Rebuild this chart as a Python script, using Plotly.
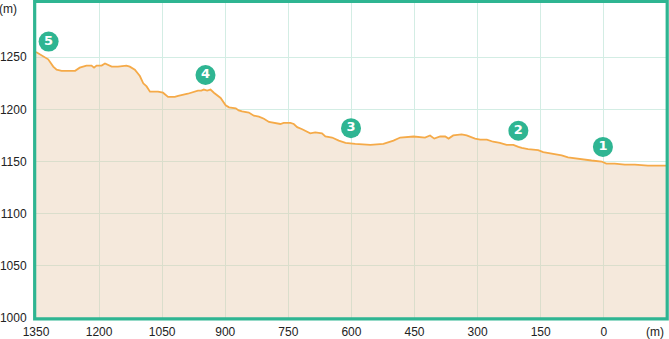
import plotly.graph_objects as go

# Elevation profile (distance in m, elevation in m)
distance = [1350, 1336, 1321, 1309, 1301, 1289, 1257, 1246, 1230, 1218, 1212, 1206, 1194, 1186, 1180,
            1170, 1155, 1135, 1127, 1115, 1103, 1099, 1095, 1087, 1079, 1060, 1048, 1036, 1020, 1012,
            989, 965, 957, 951, 943, 935, 927, 911, 899, 891, 875, 868, 860, 844, 832, 820, 808, 796,
            777, 769, 761, 753, 745, 737, 729, 717, 705, 698, 686, 670, 662, 646, 630, 614, 591, 567,
            555, 524, 500, 484, 452, 425, 413, 403, 389, 377, 369, 358, 346, 338, 326, 306, 294, 278,
            263, 247, 231, 215, 203, 195, 180, 164, 156, 144, 132, 116, 100, 85, 69, 53, 29, 5, -6,
            -26, -50, -74, -105, -137, -149]
elevation = [1255, 1252, 1248, 1241, 1238, 1237, 1237, 1240, 1242, 1242, 1240, 1242, 1242, 1244, 1243,
             1241, 1241, 1242, 1241, 1238, 1232, 1228, 1225, 1222, 1217, 1217, 1216, 1212, 1212, 1213,
             1215, 1218, 1218, 1219, 1218, 1219, 1216, 1211, 1204, 1202, 1201, 1199, 1198, 1197, 1194,
             1193, 1191, 1188, 1187, 1186, 1187, 1187, 1187, 1186, 1183, 1181, 1178, 1177, 1178, 1177,
             1174, 1173, 1170, 1168, 1167, 1166, 1166, 1167, 1170, 1173, 1174, 1173, 1175, 1172, 1174,
             1174, 1172, 1175, 1176, 1176, 1175, 1172, 1171, 1171, 1169, 1168, 1166, 1166, 1164, 1163,
             1162, 1161, 1161, 1159, 1158, 1157, 1156, 1154, 1153, 1152, 1151, 1150, 1148, 1148, 1147,
             1147, 1146, 1146, 1146]

# Waypoint markers
wp_labels = ["1", "2", "3", "4", "5"]
wp_distance = [2, 203, 601, 947, 1320]
wp_elevation = [1164, 1179.5, 1182, 1233, 1265]

x_ticks = [1350, 1200, 1050, 900, 750, 600, 450, 300, 150, 0]
y_ticks = [1000, 1050, 1100, 1150, 1200, 1250]

GREEN = "#2fb592"
GRID = "#d3ede4"
FONT = "Liberation Sans, Arial, sans-serif"

fig = go.Figure()
fig.add_trace(go.Scatter(
    x=distance, y=elevation, mode="lines",
    line=dict(color="#f5aa48", width=1.8),
    fill="tozeroy", fillcolor="rgba(230,200,167,0.4)",
    hoverinfo="skip", showlegend=False,
))
fig.add_trace(go.Scatter(
    x=wp_distance, y=wp_elevation, mode="markers+text",
    text=wp_labels, textposition="middle center",
    textfont=dict(color="white", size=13, family="DejaVu Sans", weight="bold"),
    marker=dict(size=20, color=GREEN, line=dict(width=0)),
    hoverinfo="skip", showlegend=False, cliponaxis=False,
))

fig.update_layout(
    width=669, height=339,
    margin=dict(l=36, r=3, t=3, b=21),
    paper_bgcolor="white", plot_bgcolor="white",
    font=dict(family=FONT, size=12, color="#222"),
    xaxis=dict(
        range=[1350, -148], tickvals=x_ticks, ticktext=[str(v) for v in x_ticks],
        showgrid=True, gridcolor=GRID, gridwidth=1, zeroline=False,
        ticks="outside", ticklen=3, tickcolor="rgba(0,0,0,0)",
        showline=False, automargin=False,
    ),
    yaxis=dict(
        range=[1000, 1302], tickvals=y_ticks,
        showgrid=True, gridcolor=GRID, gridwidth=1, zeroline=False,
        ticks="outside", ticklen=6, tickcolor="rgba(0,0,0,0)",
        showline=False, automargin=False,
    ),
    shapes=[dict(
        type="rect", xref="paper", yref="paper",
        x0=-0.0021, x1=1.0019, y0=-0.0029, y1=1.0054,
        line=dict(color=GREEN, width=3.2), fillcolor="rgba(0,0,0,0)", layer="above",
    )],
    annotations=[
        dict(text="(m)", xref="paper", yref="paper", x=-0.027, y=0.982,
             xanchor="right", yanchor="middle", showarrow=False, font=dict(size=12)),
        dict(text="(m)", xref="paper", yref="paper", x=1.0, y=-0.045,
             xanchor="right", yanchor="middle", showarrow=False, font=dict(size=12)),
    ],
)

fig.write_html("out.html")
